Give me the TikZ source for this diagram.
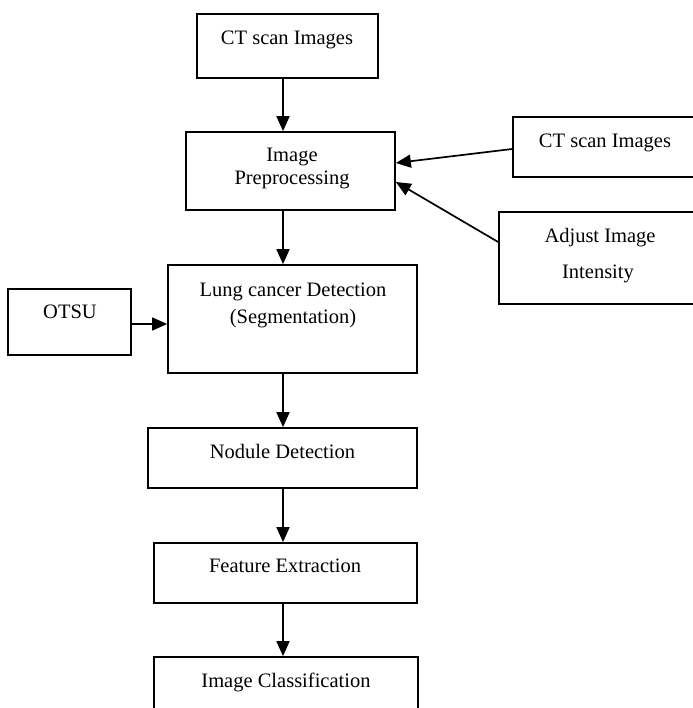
\documentclass[tikz,border=0pt]{standalone}
\usepackage{fontspec}
\setmainfont{Liberation Serif}
\usetikzlibrary{arrows.meta,calc}
\begin{document}
\begin{tikzpicture}[x=1pt,y=-1pt,
  box/.style={draw=black,line width=1.7pt,rectangle,inner sep=0pt},
  lbl/.style={anchor=base,inner sep=0pt,font=\fontsize{20.5}{24}\selectfont},
  arr/.style={line width=1.7pt,-{Triangle[length=15pt,width=13pt]}}]
\useasboundingbox (0,0) rectangle (692,708);
\coordinate (axis) at (283,0);
% boxes
\node[box,minimum width=181pt,minimum height=64pt] (ct1) at (287.5,46) {};
\node[box,minimum width=209pt,minimum height=78pt] (pre) at (290.5,171) {};
\node[box,minimum width=184pt,minimum height=60pt] (ct2) at (605,147) {};
\node[box,minimum width=201pt,minimum height=92pt] (adj) at (599.5,258) {};
\node[box,minimum width=249pt,minimum height=108pt] (lung) at (292.5,319) {};
\node[box,minimum width=123pt,minimum height=66pt] (otsu) at (69.5,322) {};
\node[box,minimum width=269pt,minimum height=60pt] (nod) at (282.5,458) {};
\node[box,minimum width=263pt,minimum height=60pt] (feat) at (285.5,573) {};
\node[box,minimum width=264pt,minimum height=62pt] (cls) at (286,688) {};
% texts
\node[lbl] (t1) at (287,45) {CT scan Images};
\node[lbl] (t2) at (292,162) {Image};
\node[lbl] (t3) at (292,185) {Preprocessing};
\node[lbl] (t4) at (605,148) {CT scan Images};
\node[lbl] (t5) at (600,243) {Adjust Image};
\node[lbl] (t6) at (598,278) {Intensity};
\node[lbl] (t7) at (293,296) {Lung cancer Detection};
\node[lbl] (t8) at (293,323) {(Segmentation)};
\node[lbl] (t9) at (70,318) {OTSU};
\node[lbl] (t10) at (282.5,458) {Nodule Detection};
\node[lbl] (t11) at (285,572) {Feature Extraction};
\node[lbl] (t12) at (286,687) {Image Classification};
% arrows
\draw[arr] (ct1.south -| axis) -- (pre.north -| axis);
\draw[arr] (pre.south -| axis) -- (lung.north -| axis);
\draw[arr] (lung.south -| axis) -- (nod.north -| axis);
\draw[arr] (nod.south -| axis) -- (feat.north -| axis);
\draw[arr] (feat.south -| axis) -- (cls.north -| axis);
\draw[arr] ([yshift=-2pt]otsu.east) -- ([yshift=-2pt]otsu.east -| lung.west);
\draw[arr] ([yshift=-2pt]ct2.west) -- ([yshift=8pt]pre.east);
\draw[arr] ([yshift=16pt]adj.west) -- ([yshift=-11pt]pre.east);
\end{tikzpicture}
\end{document}
